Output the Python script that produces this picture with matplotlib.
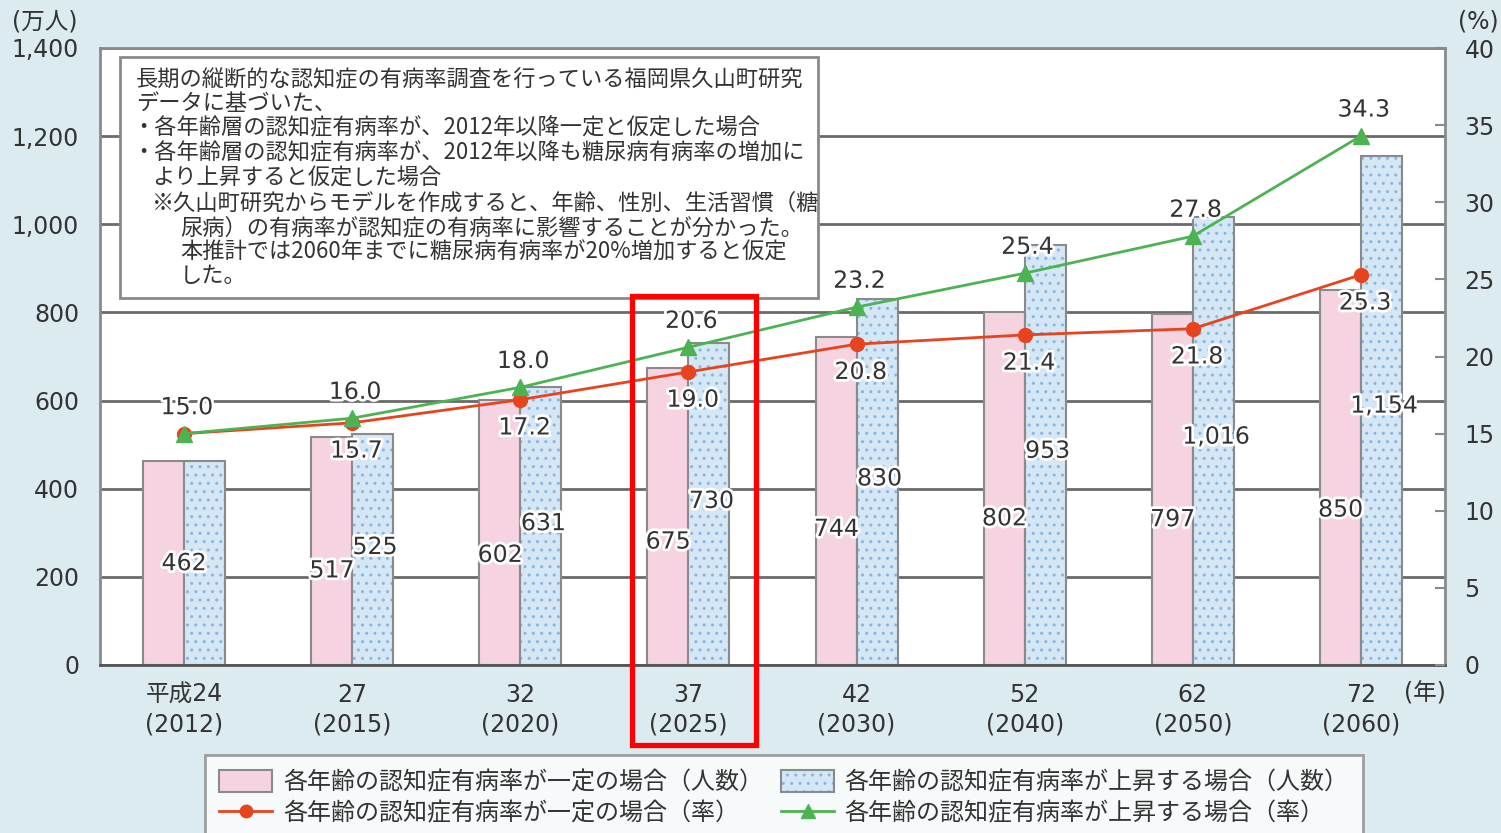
import matplotlib
matplotlib.use("Agg")
import matplotlib.pyplot as plt
import matplotlib.patheffects as pe
from matplotlib.patches import Patch, Rectangle
from matplotlib.lines import Line2D
from matplotlib.ticker import FuncFormatter
import matplotlib.transforms as mtransforms
import numpy as np

plt.rcParams['font.family'] = ['DejaVu Sans', 'Noto Sans CJK JP']

# ---- data ----
era_labels = ["平成24", "27", "32", "37", "42", "52", "62", "72"]
year_labels = ["2012", "2015", "2020", "2025", "2030", "2040", "2050", "2060"]
people_const = [462, 517, 602, 675, 744, 802, 797, 850]
people_rise = [462, 525, 631, 730, 830, 953, 1016, 1154]
rate_const = [15.0, 15.7, 17.2, 19.0, 20.8, 21.4, 21.8, 25.3]
rate_rise = [15.0, 16.0, 18.0, 20.6, 23.2, 25.4, 27.8, 34.3]
legend_labels = ["各年齢の認知症有病率が一定の場合（人数）",
                 "各年齢の認知症有病率が一定の場合（率）",
                 "各年齢の認知症有病率が上昇する場合（人数）",
                 "各年齢の認知症有病率が上昇する場合（率）"]
note_lines = ["長期の縦断的な認知症の有病率調査を行っている福岡県久山町研究",
              "データに基づいた、",
              "・各年齢層の認知症有病率が、2012年以降一定と仮定した場合",
              "・各年齢層の認知症有病率が、2012年以降も糖尿病有病率の増加に",
              "より上昇すると仮定した場合",
              "※久山町研究からモデルを作成すると、年齢、性別、生活習慣（糖",
              "尿病）の有病率が認知症の有病率に影響することが分かった。",
              "本推計では2060年までに糖尿病有病率が20%増加すると仮定",
              "した。"]
note_indent = [0, 0, 0, 0, 1, 1, 2, 2, 2]
highlight_index = 3

# ---- style ----
BG = '#dbebf0'
PINK = '#f6d3e1'
BLUE = '#d5e6f4'
DOT = '#86b6e2'
EDGE = '#8a8a8a'
GRID = '#6a6a6a'
RED = '#e8431f'
GREEN = '#4db352'
TXT = '#333333'
FS = 17

W, H = 1501, 833
fig = plt.figure(figsize=(W / 100, H / 100), dpi=100, facecolor=BG)
ax = fig.add_axes([100 / W, (H - 665) / H, 1345 / W, 617 / H])
ax.set_facecolor('white')

x = np.arange(len(era_labels))
bw = 0.244

ax.bar(x - bw / 2, people_const, bw, color=PINK, edgecolor=EDGE, linewidth=1.5, zorder=2)
ax.bar(x + bw / 2, people_rise, bw, color=BLUE, edgecolor=DOT, hatch='..', linewidth=0, zorder=2)
ax.bar(x + bw / 2, people_rise, bw, fill=False, edgecolor=EDGE, linewidth=1.5, zorder=2)

ax.set_xlim(-0.5, len(x) - 0.5)
ax.set_ylim(0, 1400)
ax.set_yticks(np.arange(0, 1401, 200))
ax.yaxis.set_major_formatter(FuncFormatter(lambda v, p: f"{int(v):,}"))
ax.grid(axis='y', color=GRID, linewidth=2)
ax.set_axisbelow(True)
ax.tick_params(axis='y', length=0, pad=15, labelsize=FS, labelcolor=TXT)
ax.set_xticks(x)
ax.set_xticklabels([f"{e}\n({y})" for e, y in zip(era_labels, year_labels)],
                   fontsize=FS, color=TXT, linespacing=1.3)
ax.tick_params(axis='x', length=0, pad=13)
for s in ['left', 'top', 'right']:
    ax.spines[s].set_color(EDGE)
    ax.spines[s].set_linewidth(2)
ax.spines['bottom'].set_color('#555555')
ax.spines['bottom'].set_linewidth(2)

halo = [pe.withStroke(linewidth=4, foreground='white')]
for i in x:
    if people_const[i] == people_rise[i]:
        ax.text(i, people_const[i] * 0.5, f"{people_const[i]:,}", ha='center', va='center',
                fontsize=FS, color=TXT, path_effects=halo, zorder=5)
    else:
        ax.text(i - 0.12, people_const[i] * 0.415, f"{people_const[i]:,}", ha='center', va='center',
                fontsize=FS, color=TXT, path_effects=halo, zorder=5)
        ax.text(i + 0.137, people_rise[i] * 0.51, f"{people_rise[i]:,}", ha='center', va='center',
                fontsize=FS, color=TXT, path_effects=halo, zorder=5)

ax2 = ax.twinx()
ax2.set_ylim(0, 40)
ax2.set_yticks(np.arange(0, 41, 5))
ax2.tick_params(axis='y', direction='in', length=7, width=1.5, color=EDGE, pad=14,
                labelsize=FS, labelcolor=TXT)
for s in ax2.spines.values():
    s.set_visible(False)

ax2.plot(x, rate_const, color=RED, linewidth=2, marker='o', markersize=10, zorder=3)
ax2.plot(x, rate_rise, color=GREEN, linewidth=2, marker='^', markersize=11, zorder=4)

for i in x:
    ax2.annotate(f"{rate_rise[i]:.1f}", (i, rate_rise[i]), xytext=(2, 19), textcoords='offset points',
                 ha='center', va='center', fontsize=FS, color=TXT, path_effects=halo, zorder=6)
    if rate_const[i] != rate_rise[i]:
        ax2.annotate(f"{rate_const[i]:.1f}", (i, rate_const[i]), xytext=(3, -20), textcoords='offset points',
                     ha='center', va='center', fontsize=FS, color=TXT, path_effects=halo, zorder=6)

# note box
ax2.add_patch(Rectangle((20 / 1345, 1 - (298 - 48) / 617), 698 / 1345, 241 / 617,
                        transform=ax2.transAxes, facecolor='white', edgecolor=EDGE,
                        linewidth=2, zorder=7))
indent_px = [136, 152, 180]
line_y = [80, 104, 128, 153, 178, 203, 228, 252, 276]
for k, line in enumerate(note_lines):
    px = indent_px[note_indent[k]]
    if line.startswith("・"):
        px = 132
    fig.text(px / W, 1 - line_y[k] / H, line, ha='left', va='center', fontsize=16,
             color=TXT, family=['Noto Sans CJK JP', 'DejaVu Sans'], zorder=8)

# unit labels
fig.text(45 / W, 1 - 22 / H, "(万人)", ha='center', va='center', fontsize=FS, color=TXT)
fig.text(1478 / W, 1 - 22 / H, "(%)", ha='center', va='center', fontsize=FS, color=TXT)
fig.text(1425 / W, 1 - 693 / H, "(年)", ha='center', va='center', fontsize=FS, color=TXT)

# legend
h_pink = Patch(facecolor=PINK, edgecolor=EDGE, linewidth=1.5)
h_blue = (Patch(facecolor=BLUE, edgecolor=DOT, hatch='..', linewidth=0),
          Patch(fill=False, edgecolor=EDGE, linewidth=1.5))
h_red = Line2D([], [], color=RED, linewidth=2, marker='o', markersize=9)
h_green = Line2D([], [], color=GREEN, linewidth=2, marker='^', markersize=10)
leg = fig.legend([h_pink, h_red, h_blue, h_green], legend_labels, ncol=2,
                 loc='upper left', bbox_to_anchor=(205 / W, 1 - 755 / H),
                 frameon=True, fancybox=False, edgecolor=EDGE,
                 handlelength=2.2, handleheight=1.0, handletextpad=0.45,
                 columnspacing=0.75, labelspacing=0.22, borderpad=0.6, borderaxespad=0,
                 prop={'family': ['Noto Sans CJK JP', 'DejaVu Sans'], 'size': 17.3})
leg.get_frame().set_linewidth(2)
for t in leg.get_texts():
    t.set_color(TXT)

# highlight rectangle
trans = mtransforms.blended_transform_factory(ax.transData, fig.transFigure)
fig.patches.append(Rectangle((highlight_index - 0.333, 1 - 745 / H), 0.732, (745 - 296) / H,
                             transform=trans, fill=False, edgecolor='#ff0000', linewidth=3.8,
                             zorder=20))

fig.savefig("out.png", dpi=100, facecolor=BG)
